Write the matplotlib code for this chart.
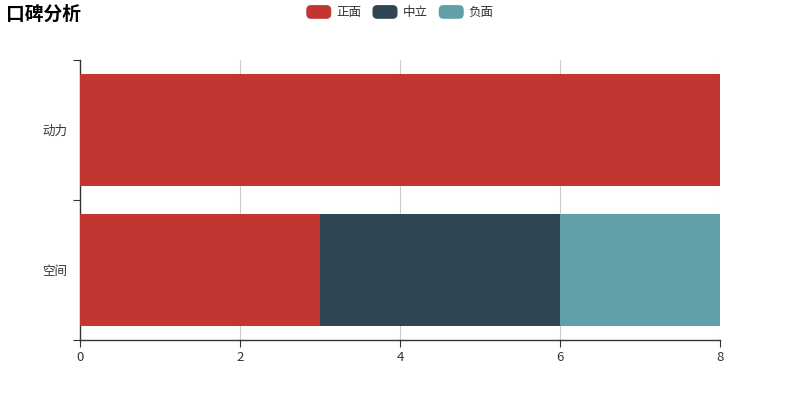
import matplotlib.pyplot as plt
from matplotlib.patches import FancyBboxPatch
from matplotlib.legend_handler import HandlerBase

plt.rcParams['font.family'] = ['Noto Sans CJK SC', 'DejaVu Sans']

categories = ['空间', '动力']
series_names = ['正面', '中立', '负面']
positive = [3, 8]
neutral = [3, 0]
negative = [2, 0]
colors = ['#c23531', '#2f4554', '#61a0a8']
x_ticks = [0, 2, 4, 6, 8]


class RoundRectHandler(HandlerBase):
    def create_artists(self, legend, orig_handle, xdescent, ydescent,
                       width, height, fontsize, trans):
        p = FancyBboxPatch((-xdescent, -ydescent - 1.5), width, height + 3,
                           boxstyle='round,pad=0,rounding_size=3.5',
                           facecolor=orig_handle.get_facecolor(),
                           edgecolor='none', transform=trans)
        return [p]


fig = plt.figure(figsize=(8, 4), dpi=100)
ax = fig.add_axes([0.1, 0.15, 0.8, 0.7])

ypos = list(range(len(categories)))
left = [0] * len(categories)
bars = []
for name, vals, c in zip(series_names, [positive, neutral, negative], colors):
    b = ax.barh(ypos, vals, left=left, height=0.8, color=c, label=name, zorder=3)
    bars.append(b)
    left = [l + v for l, v in zip(left, vals)]

ax.set_xlim(0, 8)
ax.set_ylim(-0.5, len(categories) - 0.5)
ax.set_xticks(x_ticks)
ax.set_xticklabels([str(t) for t in x_ticks], fontsize=9.5, color='#333333')
ax.grid(axis='x', color='#cccccc', linewidth=0.8, zorder=0)

ax.set_yticks([i - 0.5 for i in range(len(categories) + 1)])
ax.set_yticklabels([])
ax.set_yticks(ypos, minor=True)
ax.set_yticklabels(categories, minor=True, fontsize=9, color='#333333')
ax.tick_params(axis='y', which='minor', length=0, pad=9)
ax.tick_params(axis='y', which='major', length=5, color='#333333')
ax.tick_params(axis='x', length=5, color='#333333', pad=3)

for s in ['top', 'right']:
    ax.spines[s].set_visible(False)
for s in ['left', 'bottom']:
    ax.spines[s].set_color('#333333')
    ax.spines[s].set_linewidth(1)

fig.text(0.008, 0.965, '口碑分析', fontsize=13.5, fontweight='bold',
         color='#000000', va='center', ha='left')

handles = [b.patches[0] for b in bars]
fig.legend(handles, series_names, loc='center', bbox_to_anchor=(0.5, 0.968),
           ncol=3, frameon=False, fontsize=9, handler_map={p: RoundRectHandler() for p in handles},
           handlelength=2.0, handleheight=0.8, handletextpad=0.4, columnspacing=0.9,
           labelcolor='#333333')

fig.savefig('out.png', dpi=100)
